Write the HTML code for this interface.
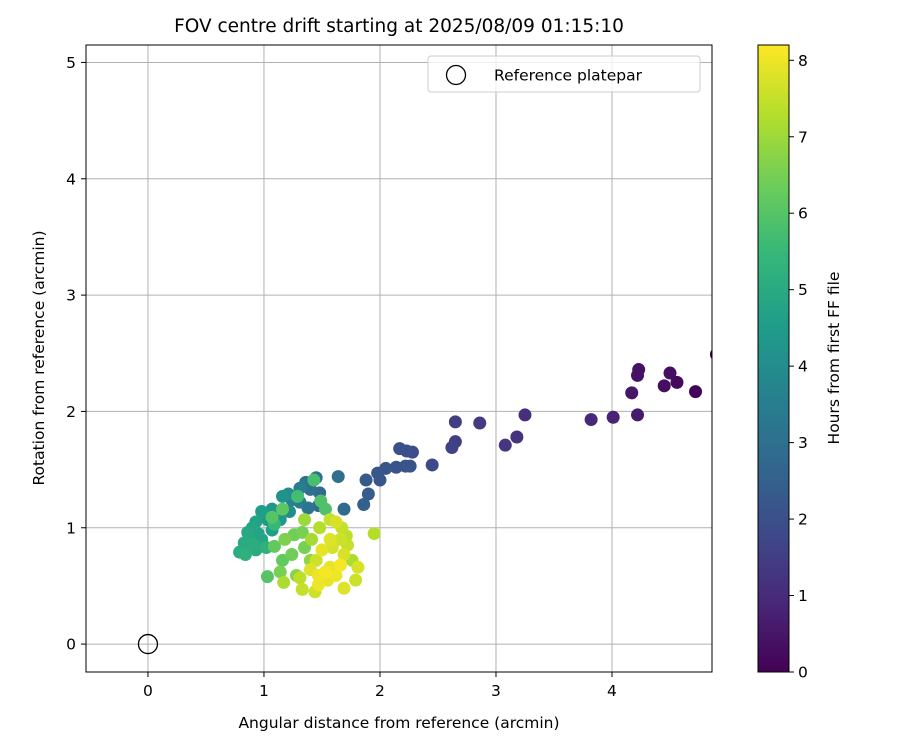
<!DOCTYPE html>
<html><head><meta charset="utf-8"><style>body{margin:0;background:#fff}svg{font-family:"DejaVu Sans","Liberation Sans",sans-serif}</style></head>
<body>
<svg id="c" width="900" height="750" viewBox="0 0 900 750">
<defs><linearGradient id="vir" x1="0" y1="1" x2="0" y2="0"></linearGradient>
<clipPath id="pc"><rect x="86" y="45" width="626" height="627"/></clipPath></defs>
<text x="399" y="32" font-size="18.5" text-anchor="middle">FOV centre drift starting at 2025/08/09 01:15:10</text>
<g id="grid"></g>
<g id="pts" clip-path="url(#pc)"></g>
<rect x="86" y="45" width="626" height="627" fill="none" stroke="#000" stroke-width="1"/>
<g id="axes"></g>
<text x="399" y="728" font-size="15.5" text-anchor="middle">Angular distance from reference (arcmin)</text>
<text transform="translate(44,358) rotate(-90)" font-size="15.5" text-anchor="middle">Rotation from reference (arcmin)</text>
<g>
<rect x="428" y="56" width="272" height="36" rx="3" fill="#fff" fill-opacity="0.8" stroke="#ccc"/>
<circle cx="456" cy="75" r="9.5" fill="none" stroke="#000" stroke-width="1.3"/>
<text x="494" y="80.5" font-size="15.5">Reference platepar</text>
</g>
<rect x="758" y="45" width="31" height="627" fill="url(#vir)" stroke="#000" stroke-width="1"/>
<g id="cb"></g>
<text transform="translate(839,358) rotate(-90)" font-size="15.5" text-anchor="middle">Hours from first FF file</text>
</svg>
<script>
const xTicks=[0,1,2,3,4];
const yTicks=[0,1,2,3,4,5];
const cbTicks=[0,1,2,3,4,5,6,7,8];
const ptX=[4.9,4.72,4.56,4.5,4.45,4.23,4.22,4.17,4.22,4.01,3.82,3.25,3.18,3.08,2.86,2.65,2.65,2.62,2.45,2.28,2.23,2.17,2.26,2.22,2.14,2.05,2.0,1.98,1.88,1.9,1.86,1.69,1.64,
1.45,1.36,1.31,1.40,1.48,1.47,1.38,1.31,1.24,1.21,1.16,1.07,1.03,0.98,0.93,0.90,0.88,0.83,0.79,0.84,0.93,0.98,1.07,1.14,1.22,0.95,0.86,1.02,0.91,1.09,
1.43,1.29,1.49,1.53,1.07,1.16,1.09,1.03,1.16,1.24,1.35,1.26,1.33,1.18,1.28,1.14,1.40,1.17,
1.48,1.57,1.62,1.67,1.71,1.72,1.69,1.66,1.57,1.50,1.45,1.40,1.47,1.53,1.57,1.62,1.66,1.55,1.47,1.44,1.31,1.33,1.69,1.79,1.81,1.76,1.95,1.59,1.41,1.35];
const ptY=[2.49,2.17,2.25,2.33,2.22,2.36,2.31,2.16,1.97,1.95,1.93,1.97,1.78,1.71,1.90,1.91,1.74,1.69,1.54,1.65,1.66,1.68,1.53,1.53,1.52,1.51,1.41,1.47,1.41,1.29,1.20,1.16,1.44,
1.43,1.39,1.34,1.33,1.30,1.19,1.17,1.22,1.24,1.29,1.27,1.16,1.07,1.14,1.05,1.0,0.90,0.87,0.79,0.77,0.81,0.90,0.98,1.07,1.14,0.95,0.96,0.83,0.85,1.03,
1.41,1.27,1.23,1.16,1.09,1.16,0.84,0.58,0.72,0.77,0.83,0.94,0.96,0.90,0.59,0.62,0.72,0.53,
1.0,1.07,1.05,1.0,0.93,0.85,0.77,0.90,0.90,0.81,0.72,0.64,0.59,0.62,0.66,0.59,0.68,0.55,0.51,0.45,0.57,0.47,0.48,0.55,0.66,0.72,0.95,0.83,0.90,1.07];
const ptH=[0,0.1,0.2,0.3,0.3,0.4,0.4,0.5,0.6,0.8,0.9,1.1,1.2,1.3,1.4,1.5,1.5,1.6,1.8,1.9,2.0,2.0,2.1,2.1,2.1,2.2,2.2,2.2,2.3,2.4,2.5,2.8,3.0,
3.0,3.2,3.5,3.0,2.8,2.9,3.2,3.4,3.6,4.0,4.2,4.3,4.5,4.6,4.7,4.8,4.9,5.0,5.1,5.2,5.0,4.8,4.6,4.4,4.0,4.7,4.9,5.2,5.1,5.5,
5.8,5.7,5.9,5.9,6.0,6.1,6.2,6.0,6.2,6.4,6.5,6.4,6.5,6.6,6.7,6.5,6.8,7.2,
7.3,7.5,7.7,7.5,7.4,7.5,7.7,7.6,7.8,7.9,7.6,7.8,8.0,8.1,7.9,8.0,8.1,7.9,8.0,7.6,7.4,7.5,7.8,7.6,7.7,7.2,7.3,7.7,7.1,7.0];
const hMax=8.2;
const X0=-0.534,X1=4.862,Y0=-0.24,Y1=5.15;
const sx=v=>86+(v-X0)/(X1-X0)*626;
const sy=v=>672-(v-Y0)/(Y1-Y0)*627;
const cby=v=>672-v/hMax*627;
const vir=[[68,1,84],[72,40,120],[62,74,137],[49,104,142],[38,130,142],[31,158,137],[53,183,121],[109,205,89],[180,222,44],[253,231,37]];
function col(h){let t=Math.max(0,Math.min(1,h/hMax))*(vir.length-1);let i=Math.min(vir.length-2,Math.floor(t)),f=t-i;
const c=vir[i].map((a,k)=>Math.round(a+(vir[i+1][k]-a)*f));return `rgb(${c})`;}
const NS='http://www.w3.org/2000/svg';
function mk(p,tag,at){const e=document.createElementNS(NS,tag);for(const k in at)e.setAttribute(k,at[k]);document.getElementById(p).appendChild(e);return e;}
const g=document.getElementById('vir');
vir.forEach((c,i)=>{const s=document.createElementNS(NS,'stop');s.setAttribute('offset',(i/(vir.length-1)));s.setAttribute('stop-color',`rgb(${c})`);g.appendChild(s);});
xTicks.forEach(t=>{const x=sx(t);
let l=mk('grid','line',{x1:x,x2:x,y1:45,y2:672,stroke:'#b0b0b0','stroke-width':1});

let k=mk('axes','line',{x1:x,x2:x,y1:672,y2:677,stroke:'#000'});

let tx=mk('axes','text',{x:x,y:696,'font-size':15.5,'text-anchor':'middle'});tx.textContent=t;
});
yTicks.forEach(t=>{const y=sy(t);
let l=mk('grid','line',{x1:86,x2:712,y1:y,y2:y,stroke:'#b0b0b0','stroke-width':1});

let k=mk('axes','line',{x1:81,x2:86,y1:y,y2:y,stroke:'#000'});

let tx=mk('axes','text',{x:76,y:y+5.5,'font-size':15.5,'text-anchor':'end'});tx.textContent=t;
});
cbTicks.forEach(t=>{const y=cby(t);
let k=mk('cb','line',{x1:789,x2:794,y1:y,y2:y,stroke:'#000'});

let tx=mk('cb','text',{x:798,y:y+5.5,'font-size':15.5});tx.textContent=t;
});
const idx=ptH.map((h,i)=>i).sort((a,b)=>ptH[a]-ptH[b]);
idx.forEach(i=>{const c=mk('pts','circle',{cx:sx(ptX[i]),cy:sy(ptY[i]),r:6.5,fill:col(ptH[i])});
});
const r=mk('pts','circle',{cx:sx(0),cy:sy(0),r:9.5,fill:'none',stroke:'#000','stroke-width':1.3});


</script>
</body></html>
